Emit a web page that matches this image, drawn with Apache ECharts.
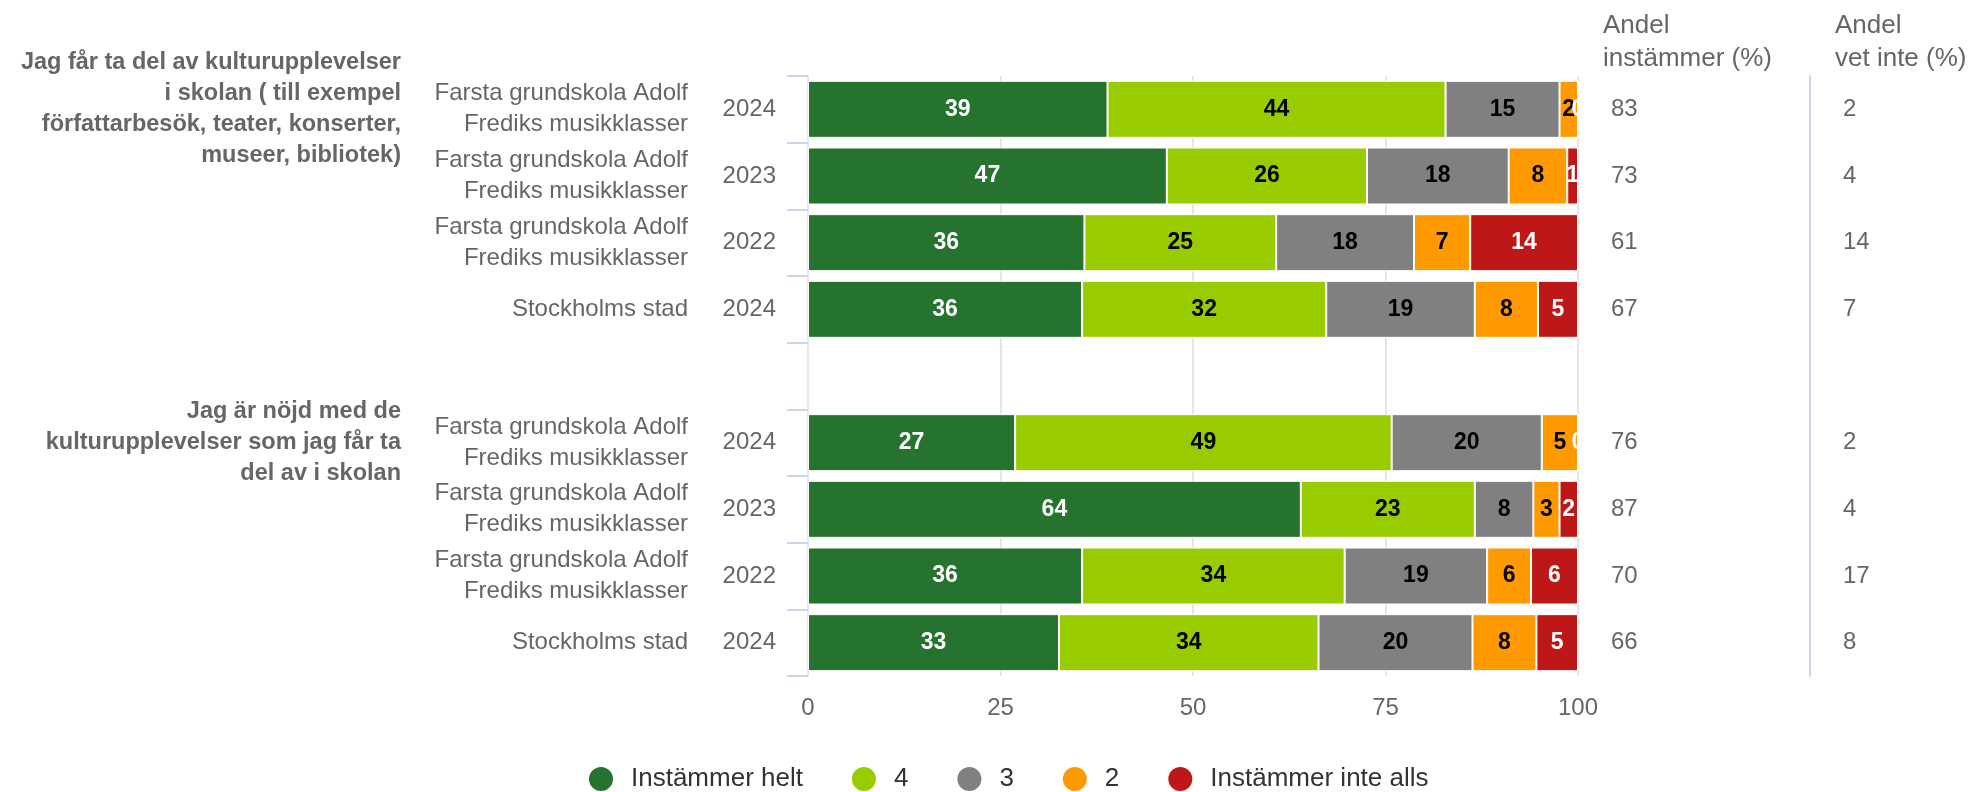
<!DOCTYPE html>
<html>
<head>
<meta charset="utf-8">
<script src="https://cdn.jsdelivr.net/npm/echarts@6/dist/echarts.min.js"></script>
<style>
  html, body { margin: 0; padding: 0; background: #fff; }
  #chart { width: 1973px; height: 792px; }
</style>
</head>
<body>
<div id="chart"></div>
<script>
// ---- Data ----
var questions = [
  'Jag får ta del av kulturupplevelser\ni skolan ( till exempel\nförfattarbesök, teater, konserter,\nmuseer, bibliotek)',
  '', '', '', '',
  'Jag är nöjd med de\nkulturupplevelser som jag får ta\ndel av i skolan',
  '', '', ''
];
var schools = [
  'Farsta grundskola Adolf\nFrediks musikklasser',
  'Farsta grundskola Adolf\nFrediks musikklasser',
  'Farsta grundskola Adolf\nFrediks musikklasser',
  'Stockholms stad',
  '',
  'Farsta grundskola Adolf\nFrediks musikklasser',
  'Farsta grundskola Adolf\nFrediks musikklasser',
  'Farsta grundskola Adolf\nFrediks musikklasser',
  'Stockholms stad'
];
var years = ['2024', '2023', '2022', '2024', '', '2024', '2023', '2022', '2024'];

var seriesNames = ['Instämmer helt', '4', '3', '2', 'Instämmer inte alls'];
var instHelt   = [38.9, 46.6, 35.9, 35.6, null, 26.9, 64.0, 35.6, 32.6];
var val4       = [43.9, 26.0, 24.9, 31.7, null, 48.9, 22.6, 34.1, 33.7];
var val3       = [14.8, 18.4, 17.9, 19.3, null, 19.5,  7.6, 18.5, 20.0];
var val2       = [ 2.4,  7.6,  7.3,  8.2, null,  4.7,  3.4,  5.7,  8.3];
var instInte   = [ 0.0,  1.4, 14.0,  5.2, null,  0.0,  2.4,  6.1,  5.4];

var andelInstammer = ['83', '73', '61', '67', '', '76', '87', '70', '66'];
var andelVetInte   = ['2', '4', '14', '7', '', '2', '4', '17', '8'];

var xTicks = [0, 25, 50, 75, 100];

// ---- Styles ----
var colors = ['#26732f', '#99cc00', '#808080', '#ff9900', '#be1717'];
var labelColors = ['#ffffff', '#000000', '#000000', '#000000', '#ffffff'];
var FONT = '"Liberation Sans", Arial, Helvetica, sans-serif';

var allValues = [instHelt, val4, val3, val2, instInte];

var series = seriesNames.map(function (name, i) {
  return {
    name: name,
    type: 'bar',
    stack: 'total',
    yAxisIndex: 0,
    barWidth: 57,
    data: allValues[i].map(function (v) { return v === null ? '-' : v; }),
    itemStyle: { color: colors[i], borderColor: '#ffffff', borderWidth: 1 },
    label: {
      show: true,
      position: 'inside',
      color: labelColors[i],
      fontFamily: FONT,
      fontSize: 23,
      fontWeight: 'bold',
      formatter: function (p) { return Math.round(p.value); }
    },
    emphasis: { disabled: true },
    animation: false
  };
});

var chart = echarts.init(document.getElementById('chart'), null, { renderer: 'canvas' });

var option = {
  animation: false,
  backgroundColor: '#ffffff',
  color: colors,
  textStyle: { fontFamily: FONT },
  title: [
    {
      text: 'Andel\ninstämmer (%)',
      left: 1598, top: 4,
      textStyle: { fontFamily: FONT, fontSize: 26, fontWeight: 'normal', color: '#666666', lineHeight: 33 }
    },
    {
      text: 'Andel\nvet inte (%)',
      left: 1830, top: 4,
      textStyle: { fontFamily: FONT, fontSize: 26, fontWeight: 'normal', color: '#666666', lineHeight: 33 }
    }
  ],
  legend: {
    left: 587,
    top: 765,
    padding: 0,
    icon: 'circle',
    itemWidth: 26,
    itemHeight: 26,
    itemGap: 47,
    selectedMode: false,
    textStyle: { fontFamily: FONT, fontSize: 26, color: '#333333', padding: [0, 0, 0, 12] },
    data: seriesNames
  },
  grid: { left: 808, right: 395, top: 76, height: 600, containLabel: false },
  xAxis: {
    type: 'value',
    min: 0, max: 100, interval: 25,
    axisLine: { show: false },
    axisTick: { show: false },
    splitLine: { show: true, lineStyle: { color: '#e6e6e6', width: 2 } },
    axisLabel: {
      margin: 20, fontFamily: FONT, fontSize: 24, color: '#666666',
      formatter: function (v) { return xTicks.indexOf(v) >= 0 ? String(v) : ''; }
    }
  },
  yAxis: [
    {
      type: 'category', inverse: true, data: years, position: 'left',
      axisLine: { show: false },
      axisTick: { show: true, length: 21, lineStyle: { color: '#ccd6eb', width: 2 } },
      axisLabel: { interval: 0, margin: 32, fontFamily: FONT, fontSize: 24, color: '#666666' },
      splitLine: { show: false }
    },
    {
      type: 'category', inverse: true, data: schools, position: 'left',
      axisLine: { show: false }, axisTick: { show: false },
      axisLabel: { interval: 0, margin: 120, fontFamily: FONT, fontSize: 24, color: '#666666', lineHeight: 31, align: 'right' },
      splitLine: { show: false }
    },
    {
      type: 'category', inverse: true, data: questions, position: 'left',
      axisLine: { show: false }, axisTick: { show: false },
      axisLabel: { interval: 0, margin: 407, fontFamily: FONT, fontSize: 23.5, fontWeight: 'bold', color: '#666666', lineHeight: 31, align: 'right' },
      splitLine: { show: false }
    },
    {
      type: 'category', inverse: true, data: andelInstammer, position: 'right', offset: 0,
      axisLine: { show: false }, axisTick: { show: false },
      axisLabel: { interval: 0, margin: 33, fontFamily: FONT, fontSize: 24, color: '#666666', align: 'left' },
      splitLine: { show: false }
    },
    {
      type: 'category', inverse: true, data: andelVetInte, position: 'right', offset: 232,
      axisLine: { show: true, lineStyle: { color: '#ccd6eb', width: 2 } },
      axisTick: { show: false },
      axisLabel: { interval: 0, margin: 33, fontFamily: FONT, fontSize: 24, color: '#666666', align: 'left' },
      splitLine: { show: false }
    }
  ],
  series: series
};

chart.setOption(option);
</script>
</body>
</html>
